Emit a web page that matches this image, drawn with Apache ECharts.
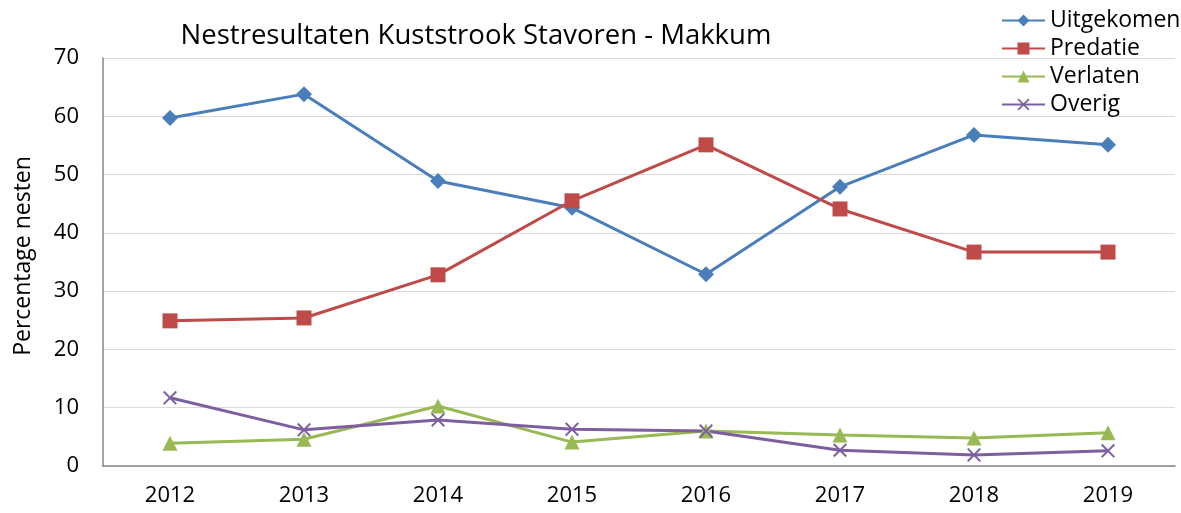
<!DOCTYPE html>
<html>
<head>
<meta charset="utf-8">
<script src="https://cdn.jsdelivr.net/npm/echarts@6/dist/echarts.min.js"></script>
<style>
  html, body { margin: 0; padding: 0; background: #fff; }
  #chart { width: 1181px; height: 513px; }
</style>
</head>
<body>
<div id="chart"></div>
<script>
const years = ['2012', '2013', '2014', '2015', '2016', '2017', '2018', '2019']
const uitgekomen = [59.7, 63.8, 48.9, 44.3, 32.9, 47.9, 56.8, 55.1]
const predatie = [24.9, 25.4, 32.8, 45.5, 55.1, 44.1, 36.7, 36.7]
const verlaten = [3.9, 4.6, 10.3, 4.1, 6.0, 5.3, 4.8, 5.7]
const overig = [11.7, 6.2, 7.9, 6.3, 6.0, 2.7, 1.9, 2.6]
const yTicks = [0, 10, 20, 30, 40, 50, 60, 70]

const FONT = '"Open Sans", sans-serif'
// dun kruisje zoals de Excel-marker
const X_SYMBOL = 'path://M0,1L1,0L10,9L9,10Z M9,0L10,1L1,10L0,9Z'

function lineSeries(name, data, color, symbol, size) {
  return {
    name,
    type: 'line',
    data,
    symbol,
    symbolSize: size,
    lineStyle: { width: 3, color },
    itemStyle: { color, borderWidth: 0 },
    emphasis: { disabled: true }
  }
}

const chart = echarts.init(document.getElementById('chart'))
chart.setOption({
  animation: false,
  textStyle: { fontFamily: FONT },
  title: {
    text: 'Nestresultaten Kuststrook Stavoren - Makkum',
    left: 471,
    textAlign: 'center',
    top: 17,
    textStyle: { fontSize: 27.5, fontWeight: 'normal', color: '#000', fontFamily: FONT }
  },
  legend: {
    orient: 'vertical',
    left: 996,
    top: 4,
    itemWidth: 43,
    itemHeight: 15,
    itemGap: 5,
    textStyle: { fontSize: 23, color: '#000', lineHeight: 22, fontFamily: FONT },
    data: ['Uitgekomen', 'Predatie', 'Verlaten', 'Overig']
  },
  grid: { left: 103, right: 6, top: 58, bottom: 47 },
  xAxis: {
    type: 'category',
    data: years,
    boundaryGap: true,
    axisLine: { lineStyle: { color: '#868686', width: 1.5 } },
    axisTick: { show: false },
    axisLabel: { fontSize: 22, color: '#000', margin: 19 }
  },
  yAxis: {
    type: 'value',
    min: yTicks[0],
    max: yTicks[yTicks.length - 1],
    interval: 10,
    name: 'Percentage nesten',
    nameLocation: 'middle',
    nameGap: 68,
    nameTextStyle: { fontSize: 23, color: '#000', padding: [0, 0, 0, 12] },
    axisLine: { show: true, lineStyle: { color: '#868686', width: 1.5 } },
    axisTick: { show: false },
    axisLabel: { fontSize: 22, color: '#000', margin: 24 },
    splitLine: { lineStyle: { color: '#d9d9d9', width: 1 } }
  },
  series: [
    lineSeries('Uitgekomen', uitgekomen, '#4a7ebb', 'diamond', 16),
    lineSeries('Predatie', predatie, '#be4b48', 'rect', 15),
    lineSeries('Verlaten', verlaten, '#98b954', 'triangle', 15),
    lineSeries('Overig', overig, '#7d5fa0', X_SYMBOL, 14)
  ]
})
</script>
</body>
</html>
